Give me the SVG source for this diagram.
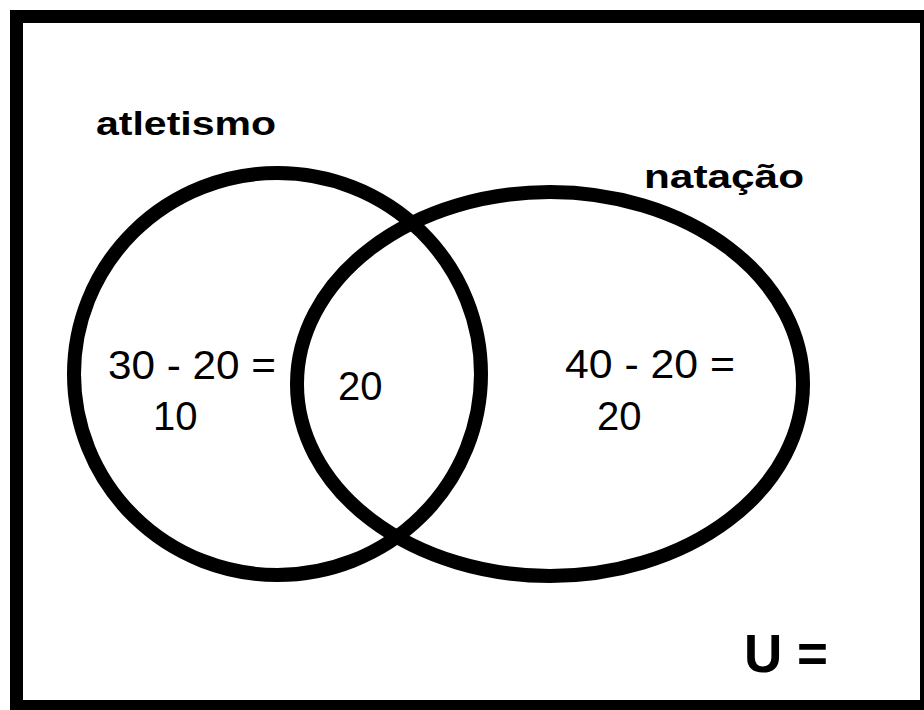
<svg xmlns="http://www.w3.org/2000/svg" width="924" height="710" viewBox="0 0 924 710">
<style>
.shape{fill:none;stroke:#000;stroke-width:14}
.lbl{font-family:"Liberation Sans",Arial,sans-serif;font-weight:bold;font-size:34px;fill:#000}
.num{font-family:"Liberation Sans",Arial,sans-serif;font-size:40px;fill:#000}
.u{font-family:"Liberation Sans",Arial,sans-serif;font-weight:bold;font-size:54px;fill:#000}
</style>
<rect x="0" y="0" width="924" height="710" fill="#fff"/>
<g id="universe">
<rect x="16.5" y="16.5" width="910" height="690" fill="none" stroke="#000" stroke-width="13"/>
<text class="u" x="744" y="672" textLength="84" lengthAdjust="spacingAndGlyphs">U =</text>
</g>
<g id="atletismo">
<ellipse class="shape" cx="277.5" cy="374" rx="203.5" ry="201"/>
<text class="lbl" x="96" y="135" textLength="180" lengthAdjust="spacingAndGlyphs">atletismo</text>
<text class="num" x="108" y="379" textLength="168" lengthAdjust="spacingAndGlyphs">30 - 20 =</text>
<text class="num" x="153" y="430">10</text>
</g>
<g id="natacao">
<ellipse class="shape" cx="550" cy="384" rx="253" ry="192"/>
<text class="lbl" x="644" y="188" textLength="160" lengthAdjust="spacingAndGlyphs">natação</text>
<text class="num" x="565" y="378" textLength="170" lengthAdjust="spacingAndGlyphs">40 - 20 =</text>
<text class="num" x="597" y="430">20</text>
</g>
<g id="intersecao">
<text class="num" x="338" y="400">20</text>
</g>
<g id="connectors"/>
</svg>
